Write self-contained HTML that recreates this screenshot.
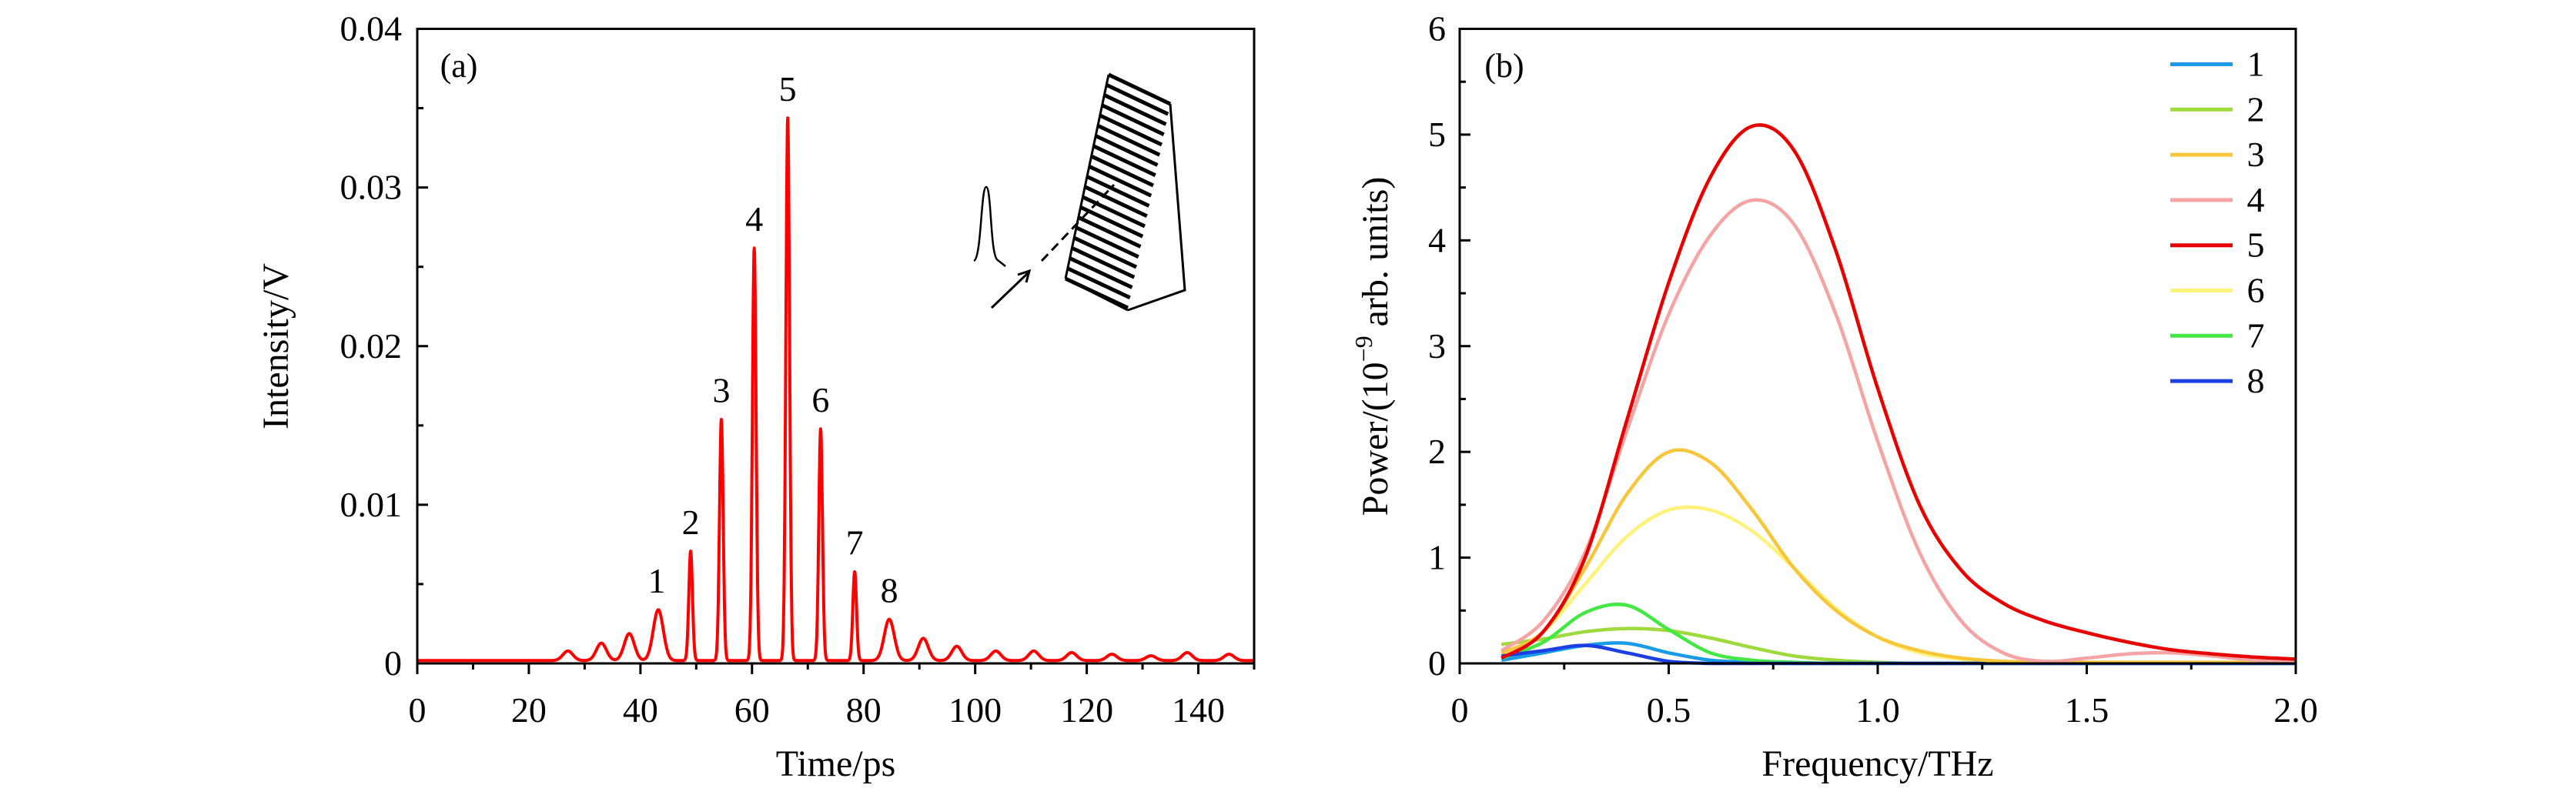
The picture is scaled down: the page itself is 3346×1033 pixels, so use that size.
<!DOCTYPE html>
<html><head><meta charset="utf-8"><style>
html,body{margin:0;padding:0;background:#fff}
svg{display:block}
text{font-family:"Liberation Serif",serif;fill:#000}
</style></head><body>
<svg id="fig" width="3346" height="1033" viewBox="0 0 3346 1033" xmlns="http://www.w3.org/2000/svg"></svg>
<script>
// ---- Panel (a) data ----
const peakTimes = [27, 33, 38, 43.2, 49, 54.5, 60.4, 66.4, 72.3, 78.4, 84.6, 90.7, 96.7, 103.7, 110.5, 117.3, 124.5, 131.5, 138, 145.5];
const peakHeights = [0.0006, 0.0011, 0.0017, 0.0032, 0.0069, 0.0152, 0.0260, 0.0342, 0.0146, 0.0056, 0.0026, 0.0014, 0.0009, 0.0006, 0.0006, 0.0005, 0.0004, 0.0003, 0.0005, 0.0004];
const peakLabels = ["1","2","3","4","5","6","7","8"];
const labeledPeakIdx = [3,4,5,6,7,8,9,10];
const aXTicks = [0,20,40,60,80,100,120,140];
const aYTicks = [0,0.01,0.02,0.03,0.04];
const aYTickLabels = ["0","0.01","0.02","0.03","0.04"];
// ---- Panel (b) data ----
const freqs = [0.1,0.2,0.3,0.4,0.5,0.6,0.7,0.8,0.9,1.0,1.1,1.2,1.3,1.4,1.5,1.6,1.7,1.8,1.9,2.0];
const s1 = [0.03,0.10,0.17,0.19,0.10,0.03,0.01,0,0,0,0,0,0,0,0,0,0,0,0,0];
const s2 = [0.18,0.23,0.30,0.33,0.31,0.24,0.15,0.07,0.03,0.01,0,0,0,0,0,0,0,0,0,0];
const s3 = [0.10,0.30,0.90,1.60,2.00,1.90,1.45,0.90,0.50,0.25,0.12,0.05,0.02,0.01,0.01,0.01,0.01,0.01,0.01,0.01];
const s4 = [0.12,0.40,1.05,2.20,3.30,4.05,4.38,4.15,3.30,2.10,1.05,0.40,0.10,0.02,0.05,0.09,0.10,0.07,0.03,0.01];
const s5 = [0.05,0.30,1.00,2.30,3.60,4.60,5.08,4.85,3.90,2.60,1.50,0.88,0.57,0.40,0.29,0.20,0.13,0.09,0.06,0.04];
const s6 = [0.08,0.30,0.75,1.20,1.45,1.45,1.25,0.90,0.52,0.25,0.10,0.04,0.01,0,0,0,0,0,0,0];
const s7 = [0.05,0.20,0.48,0.55,0.32,0.10,0.03,0.01,0,0,0,0,0,0,0,0,0,0,0,0];
const s8 = [0.07,0.12,0.17,0.10,0.02,0,0,0,0,0,0,0,0,0,0,0,0,0,0,0];
const seriesNames = ["1","2","3","4","5","6","7","8"];
const bXTicks = [0,0.5,1.0,1.5,2.0];
const bXTickLabels = ["0","0.5","1.0","1.5","2.0"];
const bYTicks = [0,1,2,3,4,5,6];

const svg = document.getElementById('fig');
const NS = 'http://www.w3.org/2000/svg';
function mk(tag, attrs, parent){ const e=document.createElementNS(NS,tag); for(const k in attrs) e.setAttribute(k,attrs[k]); (parent||svg).appendChild(e); return e; }
function txt(s, x, y, size, anchor, parent){ const t=mk('text',{x:x,y:y,'font-size':size,'text-anchor':anchor||'middle'},parent); t.textContent=s; return t; }

const TOP=37.5, BOT=862;
// ===== Panel A =====
const aL=542, aR=1629;
const ax = t => aL + (t/150)*(aR-aL);
const ay = v => BOT - (v/0.04)*(BOT-TOP);
const gA = mk('g',{});


let pts=[];
for(let t=0;t<=150;t+=0.05){
  let v=0.00018;
  for(let i=0;i<peakTimes.length;i++){
    const big = peakHeights[i]>0.004;
    const sig = big?0.33:0.9;
    const d=(t-peakTimes[i])/sig;
    v+=peakHeights[i]*Math.exp(-d*d/2);
  }
  pts.push(ax(t).toFixed(1)+','+ay(v).toFixed(1));
}
const sigLine = mk('polyline',{points:pts.join(' '),fill:'none',stroke:'#f00','stroke-width':4,'stroke-linejoin':'round'},gA);


const fa = mk('rect',{x:aL,y:TOP,width:aR-aL,height:BOT-TOP,fill:'none',stroke:'#000','stroke-width':3},gA);


for(let t=0;t<=150;t+=10){
  const major = t%20===0;
  mk('line',{x1:ax(t),x2:ax(t),y1:BOT,y2:BOT+(major?14:8),stroke:'#000','stroke-width':3},gA);
}
aXTicks.forEach(t=>{ const e=txt(String(t),ax(t),938,46,'middle',gA);
  
   });
for(let v=0;v<=0.04001;v+=0.005){
  const major = Math.abs(v*100-Math.round(v*100))<1e-6;
  mk('line',{x1:aL,x2:aL+(major?14:8),y1:ay(v),y2:ay(v),stroke:'#000','stroke-width':3},gA);
}
aYTicks.forEach((v,i)=>{ const e=txt(aYTickLabels[i],522,ay(v)+15,46,'end',gA);
  
   });
const xta = txt('Time/ps',(aL+aR)/2,1008,48,'middle',gA);


const yta = txt('Intensity/V',0,0,48,'middle',gA);
yta.setAttribute('transform','translate(374,450) rotate(-90)');


const pa = txt('(a)',596,100,44,'middle',gA);


labeledPeakIdx.forEach((idx,i)=>{
  const e=txt(peakLabels[i],ax(peakTimes[idx])+(i===0?-2:0),ay(peakHeights[idx])-26,46,'middle',gA);
  
  
});
const gi = mk('g',{fill:'none',stroke:'#000'},gA);


const L0=[1440,97],L1=[1384,362],R0=[1520,135],R1=[1465,400];
mk('polyline',{points:'1520,135 1539,377 1465,403','stroke-width':3},gi);
mk('polyline',{points:`${L0} ${R0}`,'stroke-width':4},gi);
mk('line',{x1:L0[0],y1:L0[1],x2:L1[0],y2:L1[1],'stroke-width':3},gi);
mk('line',{x1:L1[0],y1:L1[1],x2:R1[0],y2:R1[1]+3,'stroke-width':3},gi);
const N=20;
for(let i=0;i<=N;i++){
  const f=i/N;
  const lx=L0[0]+(L1[0]-L0[0])*f, ly=L0[1]+(L1[1]-L0[1])*f;
  const rx=R0[0]+(R1[0]-R0[0])*f, ry=R0[1]+(R1[1]-R0[1])*f;
  mk('line',{x1:lx,y1:ly,x2:rx,y2:ry,'stroke-width':5},gi);
}
mk('path',{d:'M1265,339 C1275,335 1274,243 1281,243 C1288,243 1286,333 1296,338 L1306,346','stroke-width':2.5},gi);
mk('line',{x1:1288,y1:400,x2:1336,y2:354,'stroke-width':3},gi);
mk('path',{d:'M1322,357 L1337,352 L1333,367','stroke-width':3},gi);
mk('line',{x1:1353,y1:339,x2:1447,y2:240,'stroke-width':3,'stroke-dasharray':'12,7'},gi);

// ===== Panel B =====
const bL=1896, bR=2982;
const bx = f => bL + (f/2)*(bR-bL);
const by = v => BOT - (v/6)*(BOT-TOP);
const gB = mk('g',{});


const allSeries=[s1,s2,s3,s4,s5,s6,s7,s8];
const colors=['#1a9be6','#9ed93e','#f7c63a','#f5a3a3','#e80000','#fff27a','#44e844','#1c3fe2'];
const drawOrder=[5,1,0,6,7,2,3,4];
function smoothPath(xs,ys){
  const P=xs.map((x,i)=>[bx(x),by(ys[i])]);
  let d='M'+P[0][0]+','+P[0][1];
  for(let i=0;i<P.length-1;i++){
    const p0=P[i-1]||P[i],p1=P[i],p2=P[i+1],p3=P[i+2]||P[i+1];
    const c1=[p1[0]+(p2[0]-p0[0])/6,p1[1]+(p2[1]-p0[1])/6];
    const c2=[p2[0]-(p3[0]-p1[0])/6,p2[1]-(p3[1]-p1[1])/6];
    d+=` C${c1[0].toFixed(1)},${Math.min(c1[1],BOT).toFixed(1)} ${c2[0].toFixed(1)},${Math.min(c2[1],BOT).toFixed(1)} ${p2[0].toFixed(1)},${p2[1].toFixed(1)}`;
  }
  return d;
}
drawOrder.forEach(i=>{
  const p=mk('path',{d:smoothPath(freqs,allSeries[i]),fill:'none',stroke:colors[i],'stroke-width':4.5},gB);
  
  
});
const fb = mk('rect',{x:bL,y:TOP,width:bR-bL,height:BOT-TOP,fill:'none',stroke:'#000','stroke-width':3},gB);


for(let k=0;k<=8;k++){ const f=k*0.25; const major=k%2===0;
  mk('line',{x1:bx(f),x2:bx(f),y1:BOT,y2:BOT+(major?14:8),stroke:'#000','stroke-width':3},gB); }
bXTicks.forEach((f,i)=>{ const e=txt(bXTickLabels[i],bx(f),938,46,'middle',gB);
  
   });
for(let k=0;k<=12;k++){ const v=k*0.5; const major=k%2===0;
  mk('line',{x1:bL,x2:bL+(major?14:8),y1:by(v),y2:by(v),stroke:'#000','stroke-width':3},gB); }
bYTicks.forEach(v=>{ const e=txt(String(v),1878,by(v)+15,46,'end',gB);
  
   });
const xtb = txt('Frequency/THz',(bL+bR)/2,1008,48,'middle',gB);


const ytb = mk('text',{'font-size':48,'text-anchor':'middle',transform:'translate(1802,450) rotate(-90)'},gB);
ytb.innerHTML='Power/(10<tspan font-size="32" dy="-20">−9</tspan><tspan dy="20"> arb. units)</tspan>';


const pb = txt('(b)',1954,100,44,'middle',gB);


const gl = mk('g',{},gB);


seriesNames.forEach((n,i)=>{
  const y=83.5+i*58.8;
  const ln=mk('line',{x1:2819,x2:2900,y1:y,y2:y,stroke:colors[i],'stroke-width':5},gl);
  
  
  const t=txt(n,2930,y+15,46,'middle',gl);
  
  
});
</script>
</body></html>
